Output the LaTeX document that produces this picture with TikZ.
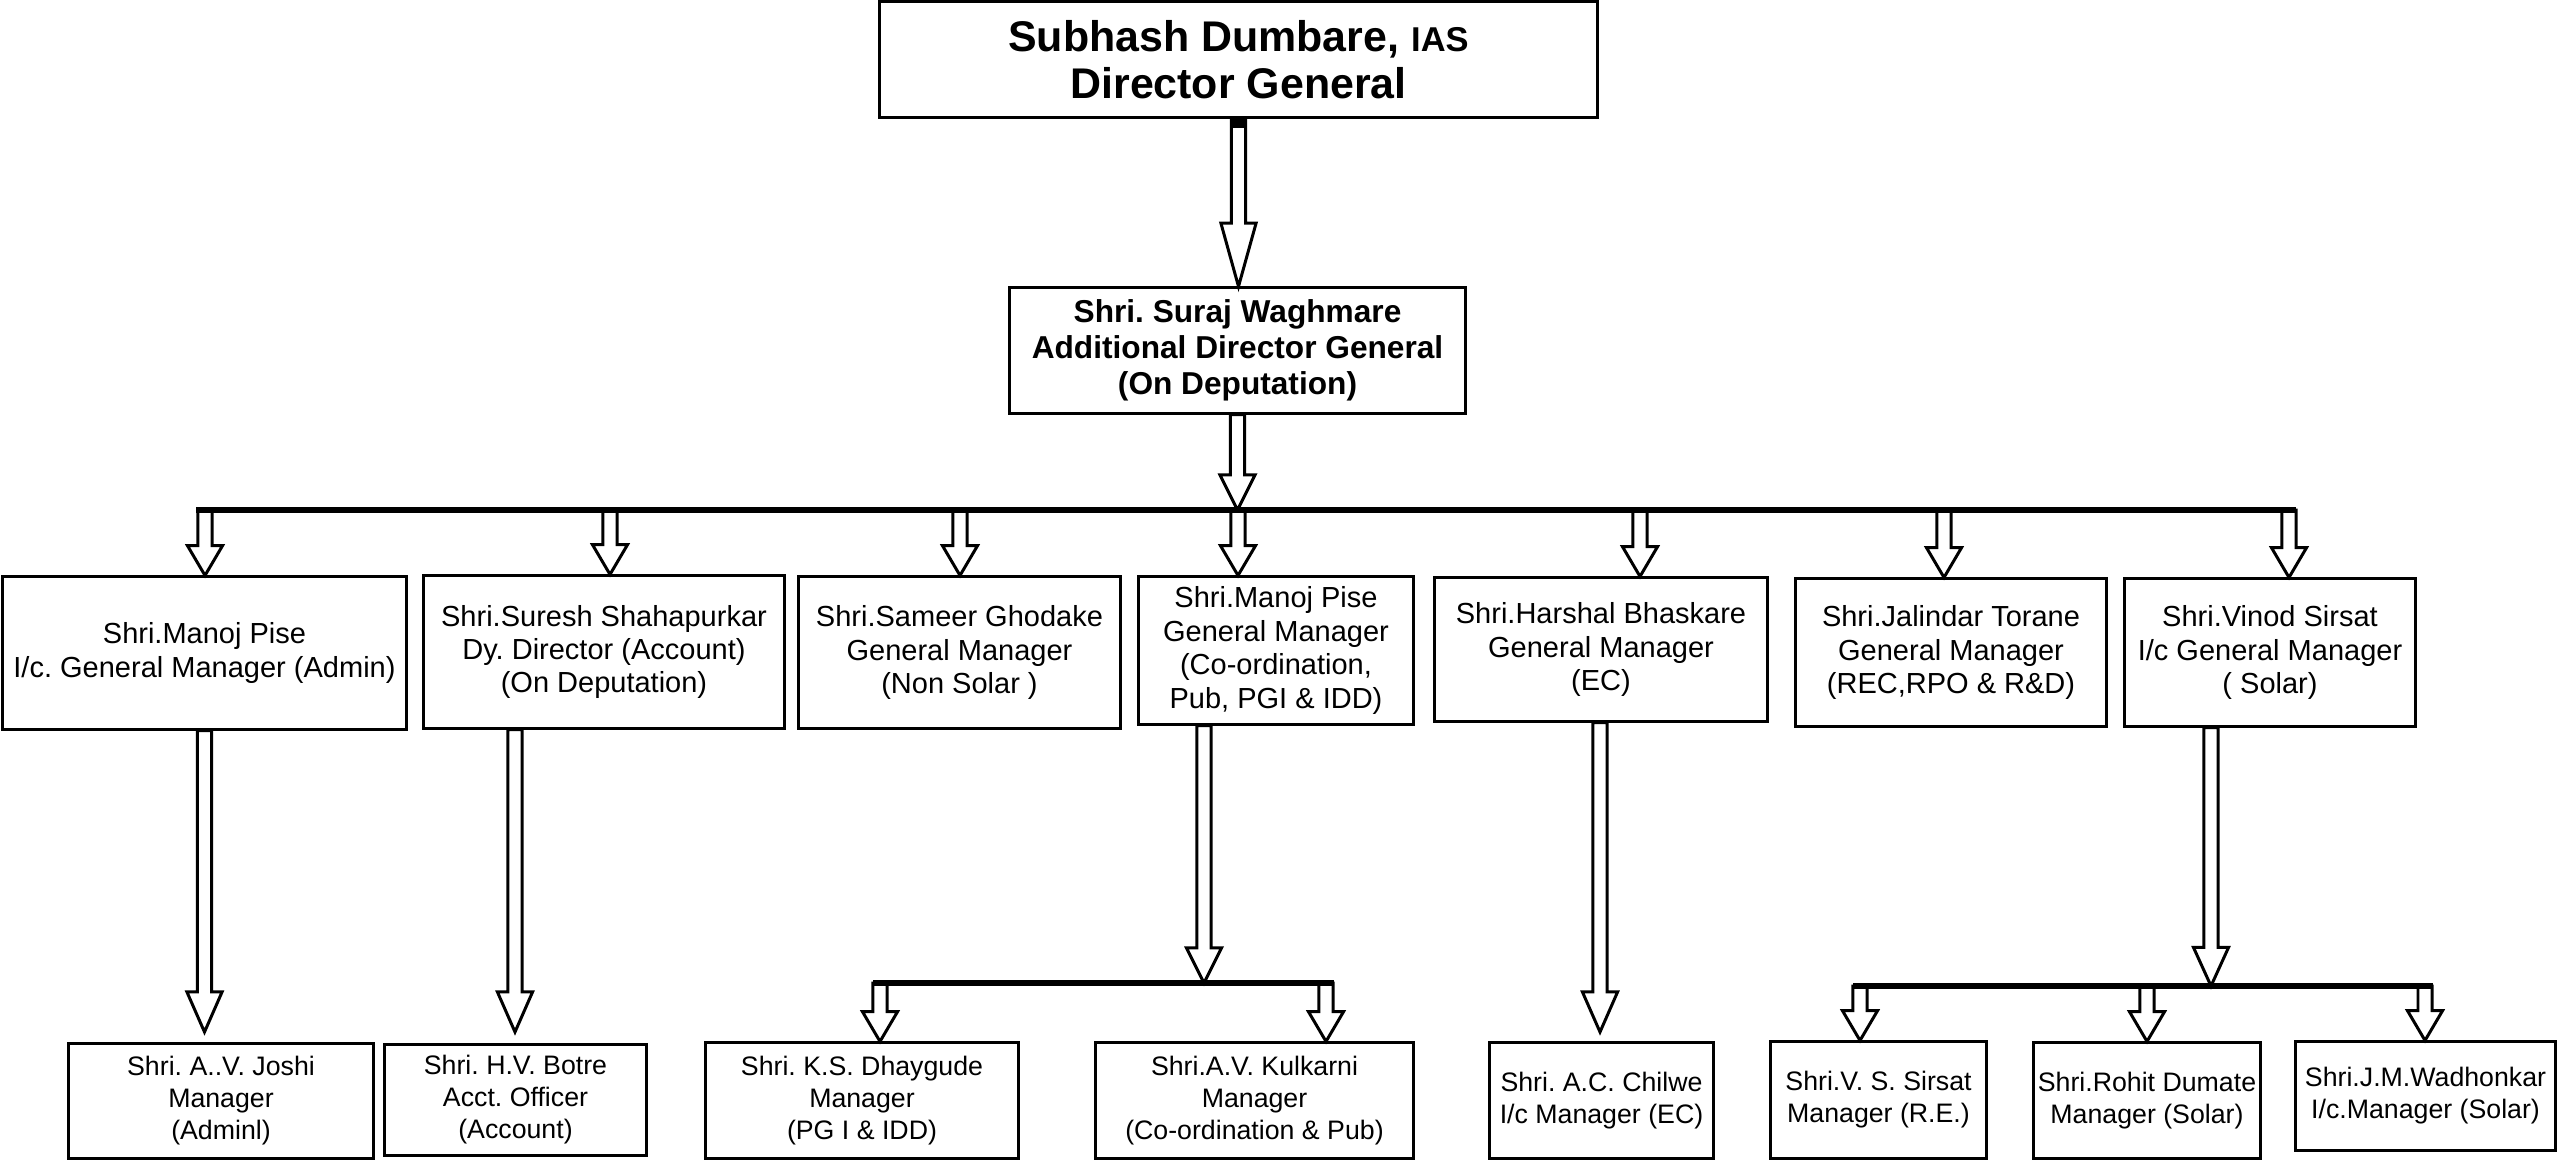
\documentclass[tikz,border=0pt]{standalone}
\usepackage{fontspec}
\setmainfont{Liberation Sans}
\usetikzlibrary{calc}
\frenchspacing

\begin{document}
\begin{tikzpicture}[
    x=0.01cm, y=-0.01cm,
    box/.style={draw, line width=0.85pt, inner sep=0pt, align=center,
                font=\fontsize{8.25}{9.5}\selectfont},
    lowbox/.style={box, font=\fontsize{7.6}{9.1}\selectfont},
    bus/.style={line width=1.5pt},
    blk/.style={draw, fill=white, line width=0.85pt,
      to path={let \p1=(\tikztostart), \p2=(\tikztotarget) in
        (\x1-2pt,\y1) -- (\x1-2pt,\y2+#1) -- (\x1-5pt,\y2+#1) -- (\x1,\y2)
        -- (\x1+5pt,\y2+#1) -- (\x1+2pt,\y2+#1) -- (\x1+2pt,\y1) -- cycle}},
    blk/.default=8.5pt,
]
  \useasboundingbox (0,0) rectangle (2557,1160);

  % Top: director general and additional director general
  \node[box, minimum width=7.17cm, minimum height=1.15cm,
        font=\fontsize{12.2}{13.4}\selectfont\bfseries] (dg) at (1238.5,59.5)
        {Subhash Dumbare, {\fontsize{9.8}{13.4}\selectfont IAS}\\Director General};
  \node[box, minimum width=4.55cm, minimum height=1.25cm,
        font=\fontsize{9}{10.2}\selectfont\bfseries] (adg) at (1237.5,350.5)
        {Shri. Suraj Waghmare\\Additional Director General\\(On Deputation)};

  % Row 2: general managers
  \node[box, minimum width=4.03cm, minimum height=1.52cm] (gm1) at (204.5,653)
        {Shri.Manoj Pise\\I/c. General Manager (Admin)};
  \node[box, minimum width=3.60cm, minimum height=1.52cm] (gm2) at (604,652)
        {Shri.Suresh Shahapurkar\\Dy. Director (Account)\\(On Deputation)};
  \node[box, minimum width=3.21cm, minimum height=1.51cm] (gm3) at (959.5,652.5)
        {Shri.Sameer Ghodake\\General Manager\\(Non Solar )};
  \node[box, minimum width=2.74cm, minimum height=1.47cm] (gm4) at (1276,650.5)
        {Shri.Manoj Pise\\General Manager\\(Co-ordination,\\Pub, PGI \& IDD)};
  \node[box, minimum width=3.32cm, minimum height=1.43cm] (gm5) at (1601,649.5)
        {Shri.Harshal Bhaskare\\General Manager\\(EC)};
  \node[box, minimum width=3.10cm, minimum height=1.47cm] (gm6) at (1951,652.5)
        {Shri.Jalindar Torane\\General Manager\\(REC,RPO \& R\&D)};
  \node[box, minimum width=2.90cm, minimum height=1.47cm] (gm7) at (2270,652.5)
        {Shri.Vinod Sirsat\\I/c General Manager\\( Solar)};

  % Row 3: managers
  \node[lowbox, minimum width=3.04cm, minimum height=1.14cm] (m1) at (221,1101)
        {Shri. A..V. Joshi\\Manager\\(Adminl)};
  \node[lowbox, minimum width=2.61cm, minimum height=1.10cm] (m2) at (515.5,1100)
        {Shri. H.V. Botre\\Acct. Officer\\(Account)};
  \node[lowbox, minimum width=3.12cm, minimum height=1.15cm] (m3) at (862,1100.5)
        {Shri. K.S. Dhaygude\\Manager\\(PG I \& IDD)};
  \node[lowbox, minimum width=3.17cm, minimum height=1.15cm] (m4) at (1254.5,1100.5)
        {Shri.A.V. Kulkarni\\Manager\\(Co-ordination \& Pub)};
  \node[lowbox, minimum width=2.23cm, minimum height=1.15cm] (m5) at (1601.5,1100.5)
        {Shri. A.C. Chilwe\\I/c Manager (EC)};
  \node[lowbox, minimum width=2.15cm, minimum height=1.16cm] (m6) at (1878.5,1100)
        {Shri.V. S. Sirsat\\Manager (R.E.)};
  \node[lowbox, minimum width=2.26cm, minimum height=1.15cm] (m7) at (2147,1100.5)
        {Shri.Rohit Dumate\\Manager (Solar)};
  \node[lowbox, minimum width=2.59cm, minimum height=1.08cm] (m8) at (2425.5,1096)
        {Shri.J.M.Wadhonkar\\I/c.Manager (Solar)};

  % Bus points
  \coordinate (busL) at (196,510);
  \coordinate (busR) at (2296,510);
  \coordinate (b1) at (205,510);
  \coordinate (b2) at (610,510);
  \coordinate (b3) at (960,510);
  \coordinate (b4) at (1238,510);
  \coordinate (b5) at (1640,510);
  \coordinate (b6) at (1944,510);
  \coordinate (b7) at (2289,510);
  \coordinate (t1) at (204,1032);
  \coordinate (t2) at (515,1032);
  \coordinate (t5) at (1600,1032);
  \coordinate (s1) at (1204,983);
  \coordinate (s1L) at (873,983);
  \coordinate (s1R) at (1334,983);
  \coordinate (c1) at (880,983);
  \coordinate (c2) at (1326,983);
  \coordinate (s2) at (2211,986);
  \coordinate (s2L) at (1853,986);
  \coordinate (s2R) at (2433,986);
  \coordinate (d1) at (1860,986);
  \coordinate (d2) at (2147,986);
  \coordinate (d3) at (2425,986);

  % Arrows
  \draw[blk=18pt] (dg.south) to (dg.south |- adg.north);
  \fill ([xshift=-2.4pt]dg.south) rectangle ([xshift=2.4pt,yshift=-2.8pt]dg.south);
  \draw[blk=10pt] (adg.south) to (adg.south |- busL);
  \foreach \b/\g in {b1/gm1, b2/gm2, b3/gm3, b4/gm4, b5/gm5, b6/gm6, b7/gm7}
    \draw[blk] (\b) to (\b |- \g.north);
  \draw[blk=11.4pt] (gm1.south) to (t1);
  \draw[blk=11.4pt] (t2 |- gm2.south) to (t2);
  \draw[blk=11.4pt] (t5 |- gm5.south) to (t5);
  \draw[blk=10pt] (s1 |- gm4.south) to (s1);
  \draw[blk=11pt] (s2 |- gm7.south) to (s2);
  \foreach \c/\m in {c1/m3, c2/m4, d1/m6, d2/m7, d3/m8}
    \draw[blk] (\c) to (\c |- \m.north);

  % Bus lines
  \draw[bus] (busL) -- (busR);
  \draw[bus] (s1L) -- (s1R);
  \draw[bus] (s2L) -- (s2R);
\end{tikzpicture}
\end{document}
